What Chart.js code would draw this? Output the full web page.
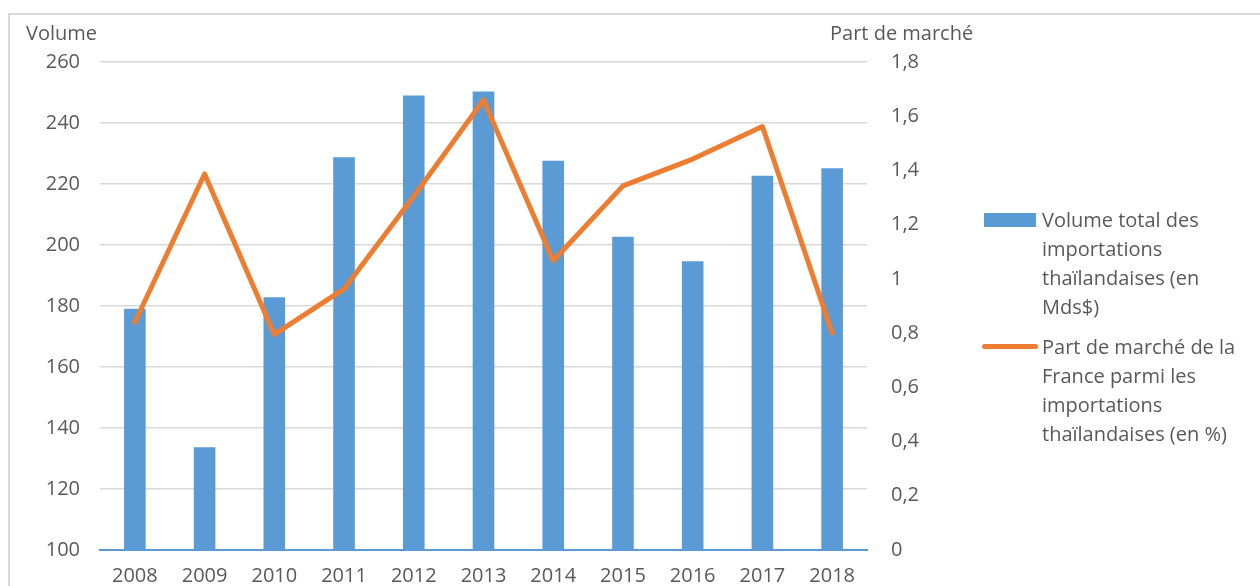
<!DOCTYPE html>
<html lang="fr">
<head>
<meta charset="utf-8">
<script src="https://cdn.jsdelivr.net/npm/chart.js@4"></script>
<style>
    html, body {
        margin: 0;
        padding: 0;
        background: #ffffff;
        overflow: hidden;
    }
    body {
        width: 1260px;
        height: 586px;
        position: relative;
        font-family: "Open Sans", sans-serif;
        color: #595959;
    }
    .cadre {
        position: absolute;
        left: 8px;
        top: 13px;
        width: 1300px;
        height: 620px;
        border: 2px solid #d9d9d9;
    }
    .zone {
        position: absolute;
        left: 0;
        top: 0;
        width: 1260px;
        height: 586px;
    }
    .titre-axe {
        position: absolute;
        font-size: 20px;
        line-height: 26px;
        white-space: nowrap;
    }
    #legende {
        position: absolute;
        left: 982px;
        top: 205px;
        width: 275px;
    }
    .item {
        display: flex;
        align-items: flex-start;
        margin-bottom: 11px;
    }
    .marque {
        width: 56px;
        height: 29px;
        position: relative;
        flex: none;
    }
    .texte {
        margin-left: 4px;
        width: 215px;
        font-size: 20px;
        line-height: 29px;
    }
</style>
</head>
<body>
<div class="cadre"></div>
<div class="zone"><canvas id="graphique" width="1260" height="586"></canvas></div>
<div class="titre-axe" style="left:26px; top:20px;">Volume</div>
<div class="titre-axe" style="left:830px; top:20px;">Part de marché</div>
<div id="legende"></div>

<script>
const annees = ["2008", "2009", "2010", "2011", "2012", "2013", "2014", "2015", "2016", "2017", "2018"];
const volumeImportations = [179.1, 133.7, 182.9, 228.8, 249, 250.3, 227.6, 202.7, 194.7, 222.7, 225.2];
const partFrance = [0.84, 1.387, 0.795, 0.963, 1.305, 1.66, 1.067, 1.343, 1.442, 1.562, 0.801];
const nomsSeries = [
    "Volume total des importations thaïlandaises (en Mds$)",
    "Part de marché de la France parmi les importations thaïlandaises (en %)"
];

const bleu = "#5b9bd5";
const orange = "#ed7d31";
const gris = "#595959";
const police = { family: "Open Sans", size: 20 };

function formatFr(valeur) {
    return Number(valeur.toFixed(1)).toString().replace(".", ",");
}

const graphique = new Chart(document.getElementById("graphique"), {
    data: {
        labels: annees,
        datasets: [
            {
                type: "line",
                label: nomsSeries[1],
                data: partFrance,
                yAxisID: "y1",
                borderColor: orange,
                backgroundColor: orange,
                borderWidth: 5,
                borderCapStyle: "round",
                borderJoinStyle: "round",
                pointRadius: 0,
                tension: 0,
                order: 1
            },
            {
                type: "bar",
                label: nomsSeries[0],
                data: volumeImportations,
                yAxisID: "y",
                backgroundColor: bleu,
                categoryPercentage: 1,
                barPercentage: 0.31,
                order: 2
            }
        ]
    },
    options: {
        responsive: false,
        animation: false,
        layout: {
            padding: { top: 62, left: 0, right: 283, bottom: 0 }
        },
        scales: {
            x: {
                grid: { display: false },
                border: { color: bleu, width: 2 },
                ticks: { color: gris, font: police, padding: 6, maxRotation: 0 },
                afterFit: (echelle) => { echelle.height = 35; }
            },
            y: {
                position: "left",
                min: 100,
                max: 260,
                ticks: { stepSize: 20, color: gris, font: police, padding: 20 },
                grid: { color: "#d9d9d9", lineWidth: 1.5, drawTicks: false },
                border: { display: false },
                afterFit: (echelle) => { echelle.width = 100; }
            },
            y1: {
                position: "right",
                min: 0,
                max: 1.8,
                ticks: {
                    stepSize: 0.2,
                    color: gris,
                    font: police,
                    padding: 24,
                    callback: (valeur) => formatFr(valeur)
                },
                grid: { drawOnChartArea: false, drawTicks: false },
                border: { display: false },
                afterFit: (echelle) => { echelle.width = 110; }
            }
        },
        plugins: {
            legend: { display: false },
            tooltip: { enabled: false }
        }
    }
});

// legende en HTML pour pouvoir couper les libelles sur plusieurs lignes
const legende = document.getElementById("legende");
[1, 0].forEach((indice) => {
    const jeu = graphique.data.datasets[indice];
    const item = document.createElement("div");
    item.className = "item";
    const marque = document.createElement("div");
    marque.className = "marque";
    if (jeu.type === "bar") {
        marque.innerHTML = `<div style="position:absolute;left:2px;top:8px;width:52px;height:14px;background:${bleu}"></div>`;
    } else {
        marque.innerHTML = `<div style="position:absolute;left:0;top:12px;width:56px;height:5px;border-radius:3px;background:${orange}"></div>`;
    }
    const texte = document.createElement("div");
    texte.className = "texte";
    texte.textContent = jeu.label;
    item.appendChild(marque);
    item.appendChild(texte);
    legende.appendChild(item);
});
</script>
</body>
</html>
